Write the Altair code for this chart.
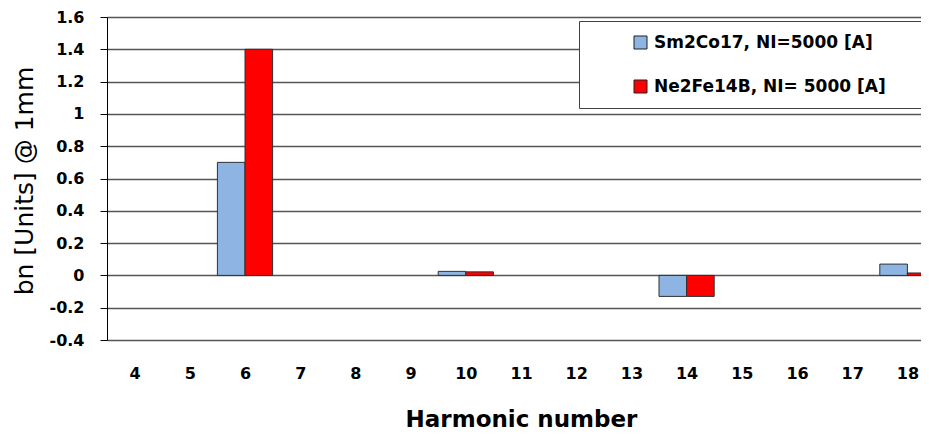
import altair as alt
import pandas as pd

harmonics = list(range(4, 19))
series_names = ["Sm2Co17, NI=5000 [A]", "Ne2Fe14B, NI= 5000 [A]"]
sm2co17 = [0, 0, 0.70, 0, 0, 0, 0.025, 0, 0, 0, -0.13, 0, 0, 0, 0.07]
ne2fe14b = [0, 0, 1.40, 0, 0, 0, 0.022, 0, 0, 0, -0.13, 0, 0, 0, 0.015]
series_colors = ["#8DB4E2", "#FF0000"]
y_ticks = [-0.4, -0.2, 0, 0.2, 0.4, 0.6, 0.8, 1, 1.2, 1.4, 1.6]

rows = []
for h, a, b in zip(harmonics, sm2co17, ne2fe14b):
    if a != 0:
        rows.append({"harmonic": h, "series": series_names[0], "bn": a})
    if b != 0:
        rows.append({"harmonic": h, "series": series_names[1], "bn": b})
df = pd.DataFrame(rows)

FONT = "DejaVu Sans"
PLOT_W = 814
BAND_PX = 55.2
x_domain = [3.5, 3.5 + PLOT_W / BAND_PX]

chart = alt.Chart(df).transform_calculate(
    x0="datum.series == '" + series_names[0] + "' ? datum.harmonic - 0.5 : datum.harmonic",
).transform_calculate(
    x1="datum.x0 + 0.5",
).mark_bar(clip=True, stroke="#303030", strokeWidth=1).encode(
    x=alt.X(
        "x0:Q",
        scale=alt.Scale(domain=x_domain, nice=False, zero=False),
        axis=alt.Axis(
            values=harmonics, format="d", title="Harmonic number",
            labelAngle=0, ticks=False, domain=False, grid=False,
            labelFlush=False, labelOverlap=False, labelBound=False,
            labelPadding=25, labelFontSize=16, labelFontWeight="bold", labelColor="black",
            labelFont=FONT, titleFont=FONT, titleFontSize=23, titleFontWeight="bold",
            titleColor="black", titleX=414, titleY=86, titleBaseline="alphabetic",
            titleAlign="center",
        ),
    ),
    x2="x1:Q",
    y=alt.Y(
        "bn:Q",
        scale=alt.Scale(domain=[-0.4, 1.6], nice=False, zero=True),
        axis=alt.Axis(
            values=y_ticks, title="bn [Units] @ 1mm",
            labelExpr="datum.value < 0 ? '-' + format(-datum.value, '~g') : format(datum.value, '~g')",
            labelFontSize=16, labelFontWeight="bold", labelColor="black", labelFont=FONT,
            labelPadding=16, tickSize=7, tickColor="black", domainColor="black",
            grid=True, gridColor="#555555", gridWidth=1.5,
            titleFont=FONT, titleFontSize=25, titleFontWeight="normal", titleColor="black",
            titleX=-75, titleY=163.5, titleBaseline="alphabetic", titleAlign="center", titleAngle=270,
        ),
    ),
    y2=alt.datum(0),
    color=alt.Color(
        "series:N",
        scale=alt.Scale(domain=series_names, range=series_colors),
        legend=alt.Legend(
            title="\u00a0", titleOrient="right", titlePadding=26, titleFontSize=10,
            orient="none", legendX=472, legendY=4,
            fillColor="white", strokeColor="#404040", padding=13,
            symbolOffset=40, symbolType="square", symbolSize=169,
            symbolStrokeColor="#202020", symbolStrokeWidth=1, symbolOpacity=1,
            labelFontSize=17, labelFontWeight="bold", labelFont=FONT, labelColor="black",
            labelOffset=5, rowPadding=26, labelLimit=400,
        ),
    ),
).properties(
    width=PLOT_W, height=323,
    padding={"left": 99, "top": 9, "right": 0, "bottom": 98},
    autosize=alt.AutoSizeParams(type="none"),
).configure_view(stroke=None).configure(font=FONT)

chart.save("out.html", embed_options={"renderer": "svg", "actions": False})
